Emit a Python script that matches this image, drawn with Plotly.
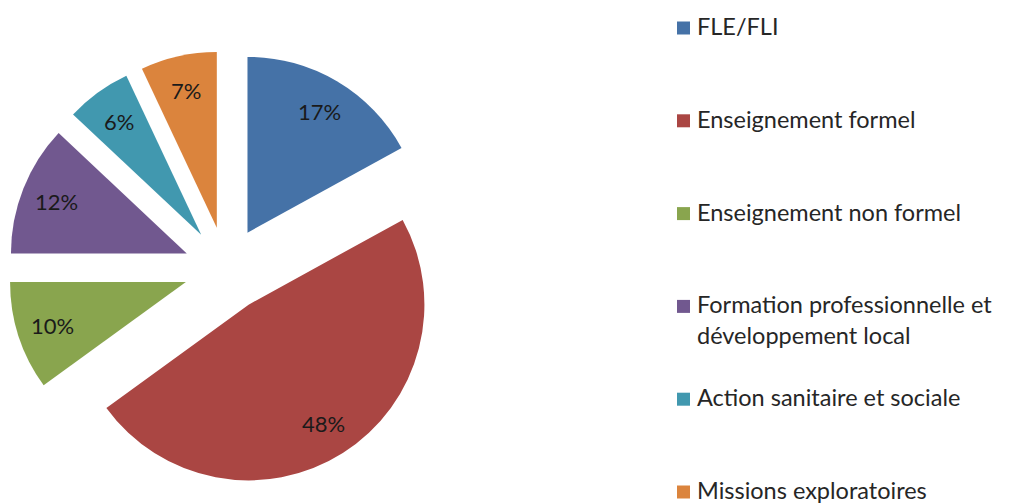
import math
import plotly.graph_objects as go

categories = ["FLE/FLI", "Enseignement formel", "Enseignement non formel",
              "Formation professionnelle et<br>développement local",
              "Action sanitaire et sociale", "Missions exploratoires"]
shares = [17, 48, 10, 12, 6, 7]
colors = ["#4572A7", "#AA4643", "#89A54E", "#71588F", "#4198AF", "#DB843D"]

W, H = 1011, 503
OFF = 8  # page body margin offset
FONT = "Lato"
pull = 0.24
cx, cy, half = 226 - OFF, 269 - OFF, 220.7  # pie box center and half-size in px
hx = min(half, cx)
r = min(hx, half) / (1 + pull)

fig = go.Figure(go.Pie(
    labels=categories, values=shares, sort=False, direction="clockwise",
    rotation=0, pull=[pull] * len(shares),
    marker=dict(colors=colors, line=dict(width=0)),
    textinfo="none",
    domain=dict(x=[(cx - hx) / W, (cx + hx) / W],
                y=[1 - (cy + half) / H, 1 - (cy - half) / H]),
    showlegend=False, hoverinfo="label+percent",
))

# percentage labels placed along each slice's bisector
total = sum(shares)
cum = 0
for v in shares:
    th = 2 * math.pi * (cum + v / 2) / total
    cum += v
    d = (pull + 0.80) * r
    px = cx + d * math.sin(th)
    py = cy - d * math.cos(th)
    fig.add_annotation(text=f"{round(100 * v / total)}%", xref="paper", yref="paper",
                       x=px / W, y=1 - py / H, xanchor="center", yanchor="middle",
                       showarrow=False, font=dict(family=FONT, size=22, color="#1a1a1a"))

leg_top, leg_step, leg_font = 28 - OFF, 92.8, 23.5
sq = 13
for i, (lab, col) in enumerate(zip(categories, colors)):
    yc = leg_top + leg_step * i
    fig.add_shape(type="rect", xref="paper", yref="paper",
                  x0=(677 - OFF) / W, x1=(677 - OFF + sq) / W,
                  y0=1 - (yc + sq / 2) / H, y1=1 - (yc - sq / 2) / H,
                  fillcolor=col, line=dict(width=0))
    fig.add_annotation(text=lab, xref="paper", yref="paper",
                       x=(695 - OFF) / W, y=1 - (yc - 18) / H, xanchor="left", yanchor="top",
                       align="left", showarrow=False,
                       font=dict(family=FONT, size=leg_font, color="#262626"))

fig.update_layout(width=W, height=H, margin=dict(l=0, r=0, t=0, b=0),
                  paper_bgcolor="white", plot_bgcolor="white")
fig.write_html("out.html")
